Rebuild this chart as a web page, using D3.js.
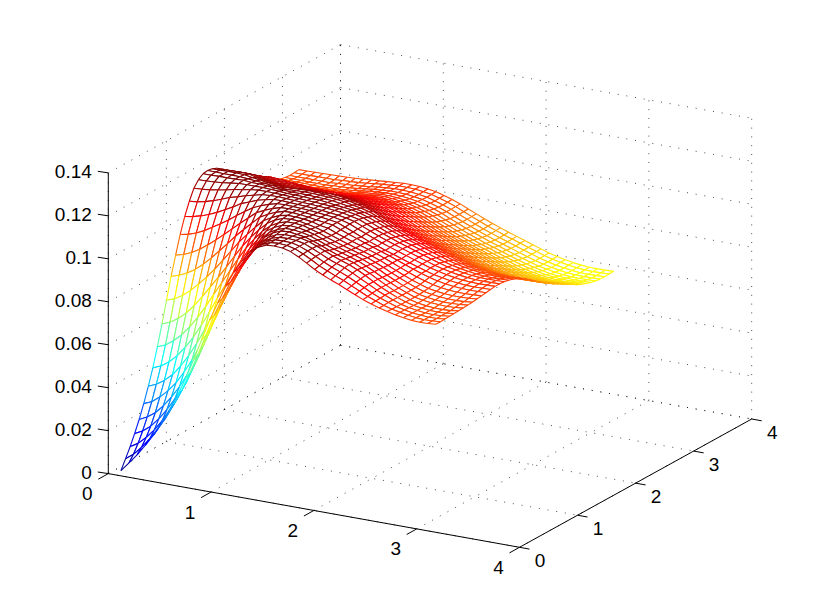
<!DOCTYPE html>
<html>
<head>
<meta charset="utf-8">
<script src="https://cdn.jsdelivr.net/npm/d3@7/dist/d3.min.js"></script>
<style>
html,body{margin:0;padding:0;background:#fff}
svg{display:block}
text{font-family:"Liberation Sans",Arial,sans-serif;font-size:19px;fill:#000}
</style>
</head>
<body>
<svg id="chart" width="830" height="615"></svg>
<script>
const xTicks = [0,1,2,3,4];
const yTicks = [0,1,2,3,4];
const zTicks = [0,0.02,0.04,0.06,0.08,0.1,0.12,0.14];
const meshCount = 40;
const meshSpan = Math.PI;
const zMaxColor = 0.1183;
// Surface heights in units of 1e-4. The surface is symmetric
// in x and y, so row n lists nodes (n,n) .. (n,40) of the 40 x 40 mesh.
const zRows = [
[9,52,96,146,200,262,331,405,492,586,685,784,871,956,1028,1087,1136,1164,1180,1183,1180,1170,1152,1130,1107,1088,1072,1057,1040,1023,1007,994,982,972,963,956,951,949,950,953],
[80,119,165,218,278,347,421,507,601,698,796,881,963,1034,1091,1138,1165,1180,1183,1180,1171,1154,1134,1112,1095,1079,1064,1046,1028,1010,996,982,971,963,956,951,949,950,953],
[153,194,245,306,372,446,533,625,720,813,897,976,1044,1099,1142,1167,1181,1182,1181,1171,1156,1137,1118,1101,1086,1070,1051,1032,1013,997,984,971,962,955,951,949,950,954],
[235,284,342,405,481,567,657,751,837,919,994,1057,1110,1148,1170,1181,1182,1180,1172,1156,1139,1121,1106,1093,1075,1055,1036,1016,999,984,970,961,955,950,949,951,955],
[331,386,452,527,611,698,788,868,947,1017,1074,1123,1155,1175,1182,1181,1179,1170,1155,1139,1123,1109,1096,1079,1059,1037,1017,999,983,969,960,954,950,949,951,956],
[442,507,581,662,747,827,904,976,1040,1093,1138,1164,1180,1183,1178,1172,1160,1145,1130,1116,1105,1093,1075,1057,1036,1016,997,982,968,959,953,950,949,951,957],
[571,643,720,799,871,944,1008,1064,1113,1148,1169,1181,1180,1175,1167,1153,1138,1124,1113,1101,1089,1072,1053,1033,1015,997,982,968,961,956,953,952,954,958],
[711,784,851,919,984,1041,1091,1135,1160,1176,1181,1179,1171,1161,1147,1133,1120,1109,1098,1085,1069,1052,1032,1014,997,982,969,962,957,954,954,956,960],
[845,906,968,1026,1074,1117,1149,1169,1181,1181,1177,1167,1156,1142,1129,1117,1105,1094,1081,1066,1049,1031,1014,998,983,971,964,959,957,956,958,962],
[963,1017,1063,1105,1141,1164,1178,1181,1179,1172,1163,1153,1139,1126,1113,1102,1091,1078,1064,1047,1030,1014,999,986,974,967,963,960,960,962,965],
[1059,1099,1136,1157,1173,1181,1180,1177,1171,1161,1155,1139,1126,1113,1101,1089,1076,1062,1047,1031,1016,1002,990,979,972,967,965,964,966,968],
[1134,1154,1170,1181,1182,1179,1174,1168,1163,1158,1143,1129,1115,1101,1088,1075,1062,1048,1034,1020,1006,995,985,978,973,970,969,970,971],
[1169,1180,1182,1180,1177,1173,1169,1164,1158,1143,1127,1111,1096,1082,1068,1056,1043,1030,1018,1006,996,988,981,976,973,972,973,974],
[1182,1180,1178,1175,1172,1168,1164,1157,1146,1130,1114,1099,1085,1071,1059,1046,1033,1021,1009,999,991,984,979,976,975,976,977],
[1178,1176,1173,1170,1166,1162,1155,1146,1130,1114,1099,1085,1071,1059,1046,1033,1021,1009,999,991,984,979,976,975,976,977],
[1174,1172,1169,1165,1160,1152,1144,1128,1112,1097,1083,1069,1057,1044,1031,1019,1007,997,989,982,977,974,973,974,975],
[1169,1166,1162,1156,1148,1139,1123,1107,1092,1078,1064,1052,1039,1026,1014,1002,992,984,977,972,969,968,969,970],
[1160,1156,1151,1143,1131,1117,1101,1086,1072,1058,1046,1033,1020,1008,996,986,978,971,966,963,962,963,964],
[1150,1143,1134,1123,1107,1091,1076,1062,1048,1036,1023,1010,998,986,976,968,961,956,953,952,953,954],
[1136,1126,1111,1095,1079,1064,1050,1036,1024,1011,998,986,974,964,956,949,944,941,940,941,942],
[1114,1097,1081,1065,1050,1036,1022,1010,997,984,972,960,950,942,935,930,927,926,927,928],
[1080,1064,1048,1033,1019,1005,993,980,967,955,943,933,925,918,913,910,909,910,911],
[1048,1032,1017,1003,989,977,964,951,939,927,917,909,902,897,894,893,894,895],
[1016,1001,987,973,961,948,935,923,911,901,893,886,881,878,877,878,879],
[986,972,958,946,933,920,908,896,886,878,871,866,863,862,863,864],
[958,944,932,919,906,894,882,872,864,857,852,849,848,849,850],
[930,918,905,892,880,868,858,850,843,838,835,834,835,836],
[906,893,880,868,856,846,838,831,826,823,822,823,824],
[880,867,855,843,833,825,818,813,810,809,810,811],
[854,842,830,820,812,805,800,797,796,797,798],
[830,818,808,800,793,788,785,784,785,786],
[806,796,788,781,776,773,772,773,774],
[786,778,771,766,763,762,763,764],
[770,763,758,755,754,755,756],
[756,751,748,747,748,749],
[746,743,742,743,744],
[740,739,740,741],
[738,739,740],
[740,741],
[742]
];

// Axis scales: each data axis maps to a horizontal and a vertical screen offset.
const origin = [108.3, 473.6];
const xToPx = d3.scaleLinear().domain([0,4]).range([0,411.2]);
const xToPy = d3.scaleLinear().domain([0,4]).range([0,73.7]);
const yToPx = d3.scaleLinear().domain([0,4]).range([0,232.2]);
const yToPy = d3.scaleLinear().domain([0,4]).range([0,-128.3]);
const zToPy = d3.scaleLinear().domain([0,0.14]).range([0,-300.7]);
const project = (x,y,z) => [origin[0]+xToPx(x)+yToPx(y), origin[1]+xToPy(x)+yToPy(y)+zToPy(z)];

const jet = t => {
  const c = v => Math.round(255*Math.max(0,Math.min(1,v)));
  return `rgb(${c(1.5-Math.abs(4*t-3))},${c(1.5-Math.abs(4*t-2))},${c(1.5-Math.abs(4*t-1))})`;
};
const color = d3.scaleLinear().domain([0,zMaxColor]).range([0,1]).clamp(true);

const svg = d3.select("#chart");
const line = d3.line();

// Axis-box dotted grid: floor plus the two back walls.
const gridSegs = [];
xTicks.forEach(x => {
  gridSegs.push([[x,0,0],[x,4,0]]);
  gridSegs.push([[x,4,0],[x,4,0.14]]);
});
yTicks.forEach(y => {
  gridSegs.push([[0,y,0],[4,y,0]]);
  gridSegs.push([[0,y,0],[0,y,0.14]]);
});
zTicks.forEach(z => {
  gridSegs.push([[0,0,z],[0,4,z]]);
  gridSegs.push([[0,4,z],[4,4,z]]);
});
svg.append("g").selectAll("path").data(gridSegs).join("path")
  .attr("d", s => line(s.map(p => project(...p))))
  .attr("fill","none").attr("stroke","#000").attr("stroke-width",0.7)
  .attr("stroke-dasharray","1 7.8");

// Mesh nodes
const grid = d3.range(1,meshCount+1).map(i => i*meshSpan/meshCount);
const zAt = (i,j) => zRows[Math.min(i,j)][Math.abs(i-j)]*1e-4;
const node = (i,j) => project(grid[i],grid[j],zAt(i,j));

// Cells drawn far-to-near with white faces, which hides what lies behind them.
const cells = [];
d3.range(meshCount-1).forEach(i => d3.range(meshCount-1).forEach(j => cells.push({i,j})));
cells.sort((a,b) => (a.i-a.j)-(b.i-b.j));

const mesh = svg.append("g");
cells.forEach(({i,j}) => {
  const corners = [[i,j],[i+1,j],[i+1,j+1],[i,j+1]];
  const pts = corners.map(c => node(c[0],c[1]));
  mesh.append("path").attr("d", line(pts)+"Z").attr("fill","#fff").attr("stroke","none");
  [[0,1],[1,2],[2,3],[3,0]].forEach(([a,b]) => {
    const zm = (zAt(...corners[a])+zAt(...corners[b]))/2;
    mesh.append("path").attr("d", line([pts[a],pts[b]]))
      .attr("fill","none").attr("stroke",jet(color(zm))).attr("stroke-width",1.1);
  });
});

// Axes
const axes = svg.append("g").attr("stroke","#000").attr("stroke-width",1).attr("fill","none");
axes.append("path").attr("d", line([project(0,0,0),project(4,0,0)]));
axes.append("path").attr("d", line([project(4,0,0),project(4,4,0)]));
axes.append("path").attr("d", line([project(0,0,0),project(0,0,0.14)]));

const tick = (a,dx,dy) => axes.append("path").attr("d", line([a,[a[0]+dx,a[1]+dy]]));
const label = (a,dx,dy,txt,anchor) => svg.append("text")
  .attr("x",a[0]+dx).attr("y",a[1]+dy).attr("text-anchor",anchor).text(txt);

xTicks.forEach(x => {
  const a = project(x,0,0);
  tick(a,-10,5.6);
  label(a,-21,26.5,String(x),"middle");
});
yTicks.forEach(y => {
  const a = project(4,y,0);
  tick(a,10,1.8);
  label(a,20.5,19.5,String(y),"middle");
});
zTicks.forEach(z => {
  const a = project(0,0,z);
  tick(a,-10.5,-1.6);
  label(a,-16.5,5.5,String(z),"end");
});
</script>
</body>
</html>
